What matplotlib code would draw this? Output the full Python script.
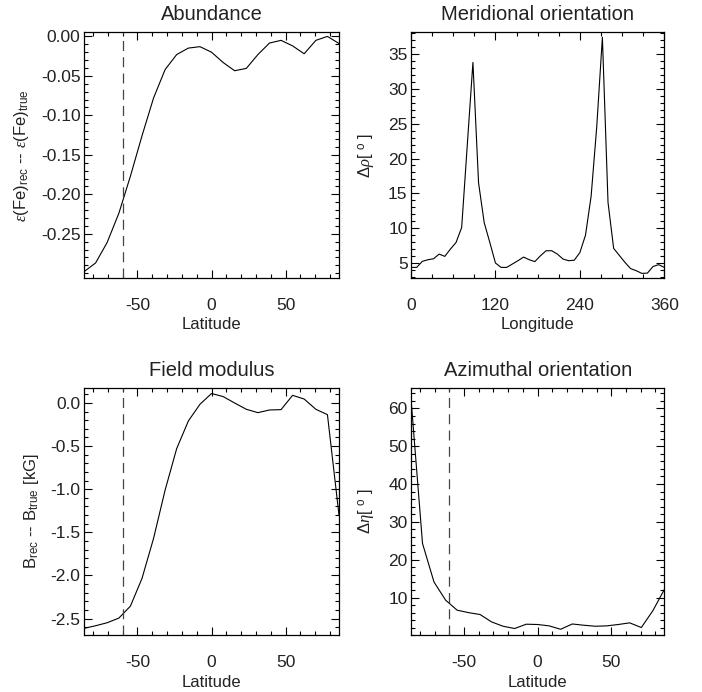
"""
Reconstruction errors vs latitude / longitude (four IDL-style panels).
"""

import matplotlib
matplotlib.use("Agg")
import matplotlib.pyplot as plt
from matplotlib.ticker import MultipleLocator, FormatStrFormatter

plt.rcParams["font.family"] = ["Liberation Sans", "DejaVu Sans"]
plt.rcParams["mathtext.fontset"] = "custom"
plt.rcParams["mathtext.rm"] = "Liberation Sans"
plt.rcParams["mathtext.it"] = "Liberation Serif:italic"
plt.rcParams["mathtext.bf"] = "Liberation Sans:bold"
plt.rcParams["axes.unicode_minus"] = False

# latitude grid (23 points, -86 .. 86)
latitude = [-86.0, -78.2, -70.4, -62.5, -54.7, -46.9, -39.1, -31.3, -23.5, -15.6, -7.8, 0.0,
            7.8, 15.6, 23.5, 31.3, 39.1, 46.9, 54.7, 62.5, 70.4, 78.2, 86.0]

abundance = [-0.298, -0.287, -0.261, -0.224, -0.177, -0.126, -0.078, -0.042, -0.023, -0.0148,
             -0.013, -0.020, -0.033, -0.0435, -0.0405, -0.023, -0.0084, -0.005, -0.012, -0.022,
             -0.005, 0.000, -0.009]

field_modulus = [-2.614, -2.584, -2.549, -2.495, -2.356, -2.035, -1.571, -1.01, -0.529, -0.208,
                 -0.015, 0.11, 0.075, 0.0, -0.073, -0.112, -0.081, -0.077, 0.089, 0.046,
                 -0.073, -0.135, -1.30]

azimuthal = [62.5, 24.3, 14.1, 9.3, 6.65, 6.0, 5.5, 3.55, 2.4, 1.8, 2.94, 2.86, 2.5, 1.6, 3.0,
             2.67, 2.4, 2.5, 2.86, 3.3, 2.06, 6.5, 12.1]

# longitude grid (8 deg steps)
longitude = [0, 8, 16, 24, 32, 40, 48, 56, 64, 72, 80, 88, 96, 104, 112, 120, 128, 136, 144,
             152, 160, 168, 176, 184, 192, 200, 208, 216, 224, 232, 240, 248, 256, 264, 272,
             280, 288, 296, 304, 312, 320, 328, 336, 344, 352, 360]

meridional = [4.37, 4.37, 5.23, 5.47, 5.61, 6.28, 5.95, 7.0, 7.95, 10.1, 22.0, 33.8, 16.5,
              10.8, 7.95, 5.0, 4.37, 4.37, 4.85, 5.33, 5.85, 5.47, 5.2, 6.04, 6.76, 6.76,
              6.28, 5.57, 5.33, 5.4, 6.5, 9.0, 14.6, 24.6, 37.4, 13.7, 7.1, 6.1, 5.1, 4.2,
              3.9, 3.51, 3.55, 4.5, 4.76, 4.37]

CUT_LAT = -60
TXT = "#222222"

fig = plt.figure(figsize=(7.02, 6.92), dpi=100)
ax1 = fig.add_axes([0.1197, 0.5983, 0.3632, 0.3548])
ax2 = fig.add_axes([0.5855, 0.5983, 0.3608, 0.3548])
ax3 = fig.add_axes([0.1197, 0.0819, 0.3632, 0.3574])
ax4 = fig.add_axes([0.5855, 0.0819, 0.3608, 0.3574])


def style(ax, title, xlabel, ylabel):
    ax.set_title(title, fontsize=14.5, color=TXT, pad=9)
    ax.set_xlabel(xlabel, fontsize=12, color=TXT, labelpad=3)
    ax.set_ylabel(ylabel, fontsize=12, color=TXT, labelpad=7)
    ax.tick_params(which="both", direction="in", top=True, right=True, labelsize=12.5,
                   labelcolor=TXT, width=0.8)
    ax.tick_params(which="major", length=6)
    ax.tick_params(which="minor", length=3)
    ax.tick_params(axis="x", which="major", pad=14.5)
    ax.tick_params(axis="y", which="major", pad=2.5)
    for sp in ax.spines.values():
        sp.set_linewidth(0.9)


# Abundance
ax1.plot(latitude, abundance, color="black", lw=0.8)
ax1.axvline(CUT_LAT, color="#444444", lw=0.9, ls=(0, (8, 5)))
ax1.set_xlim(-86, 86)
ax1.set_ylim(-0.306, 0.005)
ax1.set_xticks([-50, 0, 50])
ax1.xaxis.set_minor_locator(MultipleLocator(10))
ax1.set_yticks([-0.25, -0.20, -0.15, -0.10, -0.05, 0.00])
ax1.yaxis.set_major_formatter(FormatStrFormatter("%.2f"))
ax1.yaxis.set_minor_locator(MultipleLocator(0.01))
style(ax1, "Abundance", "Latitude",
      r"$\varepsilon$(Fe)$_{\rm rec}$ -- $\varepsilon$(Fe)$_{\rm true}$")

# Meridional orientation
ax2.plot(longitude, meridional, color="black", lw=0.8)
ax2.set_xlim(0, 360)
ax2.set_ylim(2.85, 38.1)
ax2.set_xticks([0, 120, 240, 360])
ax2.xaxis.set_minor_locator(MultipleLocator(30))
ax2.set_yticks([5, 10, 15, 20, 25, 30, 35])
ax2.yaxis.set_minor_locator(MultipleLocator(1))
style(ax2, "Meridional orientation", "Longitude", r"$\Delta\rho$[ $^{\rm o}$ ]")

# Field modulus
ax3.plot(latitude, field_modulus, color="black", lw=0.8)
ax3.axvline(CUT_LAT, color="#444444", lw=0.9, ls=(0, (8, 5)))
ax3.set_xlim(-86, 86)
ax3.set_ylim(-2.695, 0.174)
ax3.set_xticks([-50, 0, 50])
ax3.xaxis.set_minor_locator(MultipleLocator(10))
ax3.set_yticks([-2.5, -2.0, -1.5, -1.0, -0.5, 0.0])
ax3.yaxis.set_major_formatter(FormatStrFormatter("%.1f"))
ax3.yaxis.set_minor_locator(MultipleLocator(0.1))
style(ax3, "Field modulus", "Latitude", r"B$_{\rm rec}$ -- B$_{\rm true}$ [kG]")

# Azimuthal orientation
ax4.plot(latitude, azimuthal, color="black", lw=0.8)
ax4.axvline(CUT_LAT, color="#444444", lw=0.9, ls=(0, (8, 5)))
ax4.set_xlim(-86, 86)
ax4.set_ylim(0, 65.4)
ax4.set_xticks([-50, 0, 50])
ax4.xaxis.set_minor_locator(MultipleLocator(10))
ax4.set_yticks([10, 20, 30, 40, 50, 60])
ax4.yaxis.set_minor_locator(MultipleLocator(2))
style(ax4, "Azimuthal orientation", "Latitude", r"$\Delta\eta$[ $^{\rm o}$ ]")

fig.savefig("out.png", dpi=100)
print("Saved to: out.png")
